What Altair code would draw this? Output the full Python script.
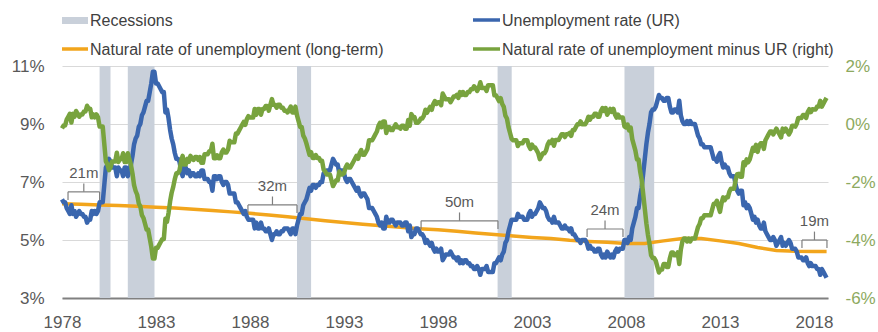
import altair as alt
import pandas as pd

# ---------------- data ----------------
# US unemployment rate, monthly, Jan 1978 - Sep 2018 (%)
ur_1978_1987 = [
    6.4, 6.3, 6.3, 6.1, 6.0, 5.9, 6.2, 5.9, 6.0, 5.8, 5.9, 6.0,
    5.9, 5.9, 5.8, 5.8, 5.6, 5.7, 5.7, 6.0, 5.9, 6.0, 5.9, 6.0,
    6.3, 6.3, 6.3, 6.9, 7.5, 7.6, 7.8, 7.7, 7.5, 7.5, 7.5, 7.2,
    7.5, 7.4, 7.4, 7.2, 7.5, 7.5, 7.2, 7.4, 7.6, 7.9, 8.3, 8.5,
    8.6, 8.9, 9.0, 9.3, 9.4, 9.6, 9.8, 9.8, 10.1, 10.4, 10.8, 10.8,
    10.4, 10.4, 10.3, 10.2, 10.1, 10.1, 9.4, 9.5, 9.2, 8.8, 8.5, 8.3,
    8.0, 7.8, 7.8, 7.7, 7.4, 7.2, 7.5, 7.5, 7.3, 7.4, 7.2, 7.3,
    7.3, 7.2, 7.2, 7.3, 7.2, 7.4, 7.4, 7.1, 7.1, 7.1, 7.0, 7.0,
    6.7, 7.2, 7.2, 7.1, 7.2, 7.2, 7.0, 6.9, 7.0, 7.0, 6.9, 6.6,
    6.6, 6.6, 6.6, 6.3, 6.3, 6.2, 6.1, 6.0, 5.9, 6.0, 5.8, 5.7,
]
ur_1988_1997 = [
    5.7, 5.7, 5.7, 5.4, 5.6, 5.4, 5.4, 5.6, 5.4, 5.4, 5.3, 5.3,
    5.4, 5.2, 5.0, 5.2, 5.2, 5.3, 5.2, 5.2, 5.3, 5.3, 5.4, 5.4,
    5.4, 5.3, 5.2, 5.4, 5.4, 5.2, 5.5, 5.7, 5.9, 5.9, 6.2, 6.3,
    6.4, 6.6, 6.8, 6.7, 6.9, 6.9, 6.8, 6.9, 6.9, 7.0, 7.0, 7.3,
    7.3, 7.4, 7.4, 7.4, 7.6, 7.8, 7.7, 7.6, 7.6, 7.3, 7.4, 7.4,
    7.3, 7.1, 7.0, 7.1, 7.1, 7.0, 6.9, 6.8, 6.7, 6.8, 6.6, 6.5,
    6.6, 6.6, 6.5, 6.4, 6.1, 6.1, 6.1, 6.0, 5.9, 5.8, 5.6, 5.5,
    5.6, 5.4, 5.4, 5.8, 5.6, 5.6, 5.7, 5.7, 5.6, 5.5, 5.6, 5.6,
    5.6, 5.5, 5.5, 5.6, 5.6, 5.3, 5.5, 5.1, 5.2, 5.2, 5.4, 5.4,
    5.3, 5.2, 5.2, 5.1, 4.9, 5.0, 4.9, 4.8, 4.9, 4.7, 4.6, 4.7,
]
ur_1998_2007 = [
    4.6, 4.6, 4.7, 4.3, 4.4, 4.5, 4.5, 4.5, 4.6, 4.5, 4.4, 4.4,
    4.3, 4.4, 4.2, 4.3, 4.2, 4.3, 4.3, 4.2, 4.2, 4.1, 4.1, 4.0,
    4.0, 4.1, 4.0, 3.8, 4.0, 4.0, 4.0, 4.1, 3.9, 3.9, 3.9, 3.9,
    4.2, 4.2, 4.3, 4.4, 4.3, 4.5, 4.6, 4.9, 5.0, 5.3, 5.5, 5.7,
    5.7, 5.7, 5.7, 5.9, 5.8, 5.8, 5.8, 5.7, 5.7, 5.7, 5.9, 6.0,
    5.8, 5.9, 5.9, 6.0, 6.1, 6.3, 6.2, 6.1, 6.1, 6.0, 5.8, 5.7,
    5.7, 5.6, 5.8, 5.6, 5.6, 5.6, 5.5, 5.4, 5.4, 5.5, 5.4, 5.4,
    5.3, 5.4, 5.2, 5.2, 5.1, 5.0, 5.0, 4.9, 5.0, 5.0, 5.0, 4.9,
    4.7, 4.8, 4.7, 4.7, 4.6, 4.6, 4.7, 4.7, 4.5, 4.4, 4.5, 4.4,
    4.6, 4.5, 4.4, 4.5, 4.4, 4.6, 4.7, 4.6, 4.7, 4.7, 4.7, 5.0,
]
ur_2008_2018 = [
    5.0, 4.9, 5.1, 5.0, 5.4, 5.6, 5.8, 6.1, 6.1, 6.5, 6.8, 7.3,
    7.8, 8.3, 8.7, 9.0, 9.4, 9.5, 9.5, 9.6, 9.8, 10.0, 9.9, 9.9,
    9.8, 9.8, 9.9, 9.9, 9.6, 9.4, 9.4, 9.5, 9.5, 9.4, 9.8, 9.3,
    9.1, 9.0, 9.0, 9.1, 9.0, 9.1, 9.0, 9.0, 9.0, 8.8, 8.6, 8.5,
    8.3, 8.3, 8.2, 8.2, 8.2, 8.2, 8.2, 8.0, 7.8, 7.8, 7.7, 7.9,
    8.0, 7.7, 7.5, 7.6, 7.5, 7.5, 7.3, 7.2, 7.2, 7.2, 6.9, 6.7,
    6.6, 6.7, 6.7, 6.2, 6.3, 6.1, 6.2, 6.1, 5.9, 5.7, 5.8, 5.6,
    5.7, 5.5, 5.4, 5.4, 5.6, 5.3, 5.2, 5.1, 5.0, 5.0, 5.1, 5.0,
    4.8, 4.9, 5.0, 5.1, 4.8, 4.9, 4.8, 4.9, 5.0, 4.9, 4.7, 4.7,
    4.7, 4.6, 4.4, 4.4, 4.4, 4.3, 4.3, 4.4, 4.2, 4.1, 4.2, 4.1,
    4.1, 4.1, 4.0, 4.0, 3.8, 4.0, 3.9, 3.8, 3.7,
]
unemployment_rate = ur_1978_1987 + ur_1988_1997 + ur_1998_2007 + ur_2008_2018
months = [1978 + i / 12 for i in range(len(unemployment_rate))]

# Natural rate of unemployment (long-term), read at the start of each year (%)
natural_rate_years = list(range(1978, 2019)) + [2018.67]
natural_rate = [
    6.25, 6.23, 6.21, 6.19, 6.16, 6.13, 6.10, 6.06, 6.02, 5.97,
    5.92, 5.86, 5.80, 5.73, 5.66, 5.60, 5.54, 5.49, 5.44, 5.39,
    5.35, 5.30, 5.24, 5.19, 5.14, 5.09, 5.05, 4.99, 4.95, 4.92,
    4.88, 4.88, 4.97, 5.05, 5.05, 4.97, 4.88, 4.74, 4.64, 4.61,
    4.60, 4.60,
]

# Recessions (decimal years)
recession_start = [1980.0, 1981.5, 1990.5, 2001.17, 2007.92]
recession_end = [1980.58, 1982.92, 1991.25, 2001.92, 2009.5]

# Annotated spans (UR below natural rate before a recession)
bracket_label = ["21m", "32m", "50m", "24m", "19m"]
bracket_start = [1978.32, 1987.89, 1997.1, 2005.93, 2017.36]
bracket_end = [1980.0, 1990.5, 2001.19, 2007.84, 2018.69]
bracket_level = [6.66, 6.21, 5.66, 5.38, 5.0]

x_ticks = [1978, 1983, 1988, 1993, 1998, 2003, 2008, 2013, 2018]
left_ticks = [3, 5, 7, 9, 11]
right_ticks = [-6, -4, -2, 0, 2]

legend_labels = [
    "Recessions",
    "Natural rate of unemployment (long-term)",
    "Unemployment rate (UR)",
    "Natural rate of unemployment minus UR (right)",
]

# ---------------- tables ----------------
nat_by_year = dict(zip(natural_rate_years, natural_rate))
gap = [round(nat_by_year[int(m)] - u, 3) for m, u in zip(months, unemployment_rate)]

ur_df = pd.DataFrame({"t": months, "ur": unemployment_rate})
gap_df = pd.DataFrame({"t": months, "gap": gap})
nat_df = pd.DataFrame({"t": natural_rate_years, "nat": natural_rate})
rec_df = pd.DataFrame({"start": recession_start, "end": recession_end})
br_df = pd.DataFrame({
    "label": bracket_label,
    "start": bracket_start,
    "end": bracket_end,
    "level": bracket_level,
})
br_df["mid"] = (br_df["start"] + br_df["end"]) / 2
br_df["low"] = br_df["level"] - 0.28
br_df["high"] = br_df["level"] + 0.29
br_df["ty"] = br_df["level"] + 0.66

# ---------------- styles ----------------
FONT = "Liberation Sans"
GRAY_TXT = "#595959"
BLUE = "#3A66AE"
GREEN = "#78A33E"
ORANGE = "#F2A51C"
REC = "#C9D0DA"
BR = "#7F7F7F"

x_scale = alt.Scale(domain=[1978, 2018.745], nice=False, zero=False)
y_left = alt.Scale(domain=[3, 11], nice=False, zero=False)
y_right = alt.Scale(domain=[-6, 2], nice=False, zero=False)

x_axis = alt.Axis(values=x_ticks, format="d", grid=False, ticks=False,
                  domain=True, domainColor="#808080", domainWidth=2,
                  labelFont=FONT, labelFontSize=17, labelColor=GRAY_TXT,
                  labelPadding=16, labelFlush=False, labelOverlap=False, title=None)
y_left_axis = alt.Axis(values=left_ticks, labelExpr="datum.value + '%'",
                       grid=True, gridColor="#D9D9D9", gridWidth=1,
                       ticks=False, domain=False, labelFont=FONT,
                       labelFontSize=17, labelColor=GRAY_TXT,
                       labelPadding=18, title=None)
y_right_axis = alt.Axis(values=right_ticks, labelExpr="datum.value + '%'",
                        orient="right", grid=False, ticks=False, domain=False,
                        labelFont=FONT, labelFontSize=17, labelColor="#8DA960",
                        labelPadding=17, title=None)


def X(field):
    return alt.X(field, type="quantitative", scale=x_scale, axis=x_axis)


def YL(field):
    return alt.Y(field, type="quantitative", scale=y_left, axis=y_left_axis)


# ---------------- layers ----------------
recessions = alt.Chart(rec_df).mark_rect(color=REC).encode(
    x=X("start"), x2="end", y=alt.value(0), y2=alt.value(232),
)

orange = alt.Chart(nat_df).mark_line(color=ORANGE, strokeWidth=3.5).encode(
    x=X("t"), y=YL("nat"),
)

blue = alt.Chart(ur_df).mark_line(color=BLUE, strokeWidth=4.5, strokeJoin="round").encode(
    x=X("t"), y=YL("ur"),
)

br_h = alt.Chart(br_df).mark_rule(color=BR, strokeWidth=1.2).encode(
    x=X("start"), x2="end", y=YL("level"),
)
br_l = alt.Chart(br_df).mark_rule(color=BR, strokeWidth=1.2).encode(
    x=X("start"), y=YL("low"), y2="level",
)
br_r = alt.Chart(br_df).mark_rule(color=BR, strokeWidth=1.2).encode(
    x=X("end"), y=YL("low"), y2="level",
)
br_c = alt.Chart(br_df).mark_rule(color=BR, strokeWidth=1.2).encode(
    x=X("mid"), y=YL("level"), y2="high",
)
br_t = alt.Chart(br_df).mark_text(font=FONT, fontSize=15, color=GRAY_TXT,
                                   baseline="middle", align="center").encode(
    x=X("mid"), y=YL("ty"), text="label:N",
)

one = alt.Data(values=[{"k": 0}])


def legend_text(label, xpix, ypix):
    return alt.Chart(one).mark_text(font=FONT, fontSize=16, color="#404040",
                                    align="left", baseline="middle").encode(
        x=alt.value(xpix), y=alt.value(ypix), text=alt.value(label))


leg_rec = alt.Chart(one).mark_rect(color=REC).encode(
    x=alt.value(0), x2=alt.value(26), y=alt.value(-49), y2=alt.value(-42))
leg_orange = alt.Chart(one).mark_rule(color=ORANGE, strokeWidth=3.5).encode(
    x=alt.value(0), x2=alt.value(26), y=alt.value(-17))
leg_blue = alt.Chart(one).mark_rule(color=BLUE, strokeWidth=3.5).encode(
    x=alt.value(411), x2=alt.value(438), y=alt.value(-46))
leg_green = alt.Chart(one).mark_rule(color=GREEN, strokeWidth=3.5).encode(
    x=alt.value(411), x2=alt.value(438), y=alt.value(-17))

inner = alt.layer(
    recessions, orange, blue, br_h, br_l, br_r, br_c, br_t,
    leg_rec, leg_orange, leg_blue, leg_green,
    legend_text(legend_labels[0], 28, -45),
    legend_text(legend_labels[1], 28, -16),
    legend_text(legend_labels[2], 440, -45),
    legend_text(legend_labels[3], 440, -16),
)

green = alt.Chart(gap_df).mark_line(color=GREEN, strokeWidth=4.5, strokeJoin="round").encode(
    x=X("t"),
    y=alt.Y("gap:Q", scale=y_right, axis=y_right_axis),
)

chart = alt.layer(inner, green).resolve_scale(y="independent").properties(
    width=766,
    height=232,
    padding={"left": 62, "right": 50, "top": 66, "bottom": 34},
    autosize=alt.AutoSizeParams(type="none"),
).configure_view(stroke=None)

chart.save("out.html", embed_options={"renderer": "svg", "actions": False})
